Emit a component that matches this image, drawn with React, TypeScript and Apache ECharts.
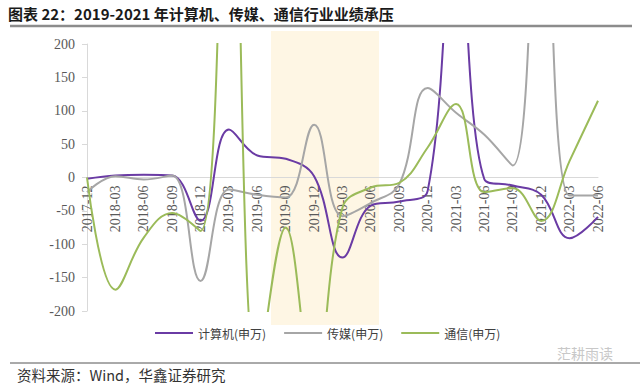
import React, { useEffect, useRef } from "react";
import * as echarts from "echarts";

const categories = [
  "2017-12", "2018-03", "2018-06", "2018-09", "2018-12",
  "2019-03", "2019-06", "2019-09", "2019-12",
  "2020-03", "2020-06", "2020-09", "2020-12",
  "2021-03", "2021-06", "2021-09", "2021-12",
  "2022-03", "2022-06",
];

const computerValues = [-2, 3, 4, 3, -65, 72, 33, 28, 2, -120, -42, -36, -20, 420, -3, -12, -26, -91, -59];
const mediaValues = [-22, 2, -3, 3, -155, -18, -26, -30, 79, -58, -38, -10, 134, 97, 64, 18, 550, -27, -27];
const telecomValues = [0, -168, -90, -53, -80, 640, -300, -75, -320, -45, -15, -8, 45, 110, -22, -16, -65, 25, 115];

const seriesNames = ["计算机(申万)", "传媒(申万)", "通信(申万)"];
const seriesColors = ["#6A3BA4", "#A6A6A6", "#9BBB59"];

const yTicks = { min: -200, max: 200, interval: 50 };

const titleText = "图表 22：2019-2021 年计算机、传媒、通信行业业绩承压";
const sourceText = "资料来源：Wind，华鑫证券研究";
const watermarkText = "茫耕雨读";

export default function App() {
  const ref = useRef<HTMLDivElement>(null);

  useEffect(() => {
    if (!ref.current) return;
    const chart = echarts.init(ref.current, null, { renderer: "svg" });
    const serif = "'Liberation Serif', 'Times New Roman', serif";
    const cjk = "'Noto Sans CJK SC', sans-serif";
    const dataSets = [computerValues, mediaValues, telecomValues];
    const gridTop = 44;
    const gridBottom = 74;
    const gridHeight = 385 - gridTop - gridBottom;
    const zeroOffset = -gridHeight * (0 - yTicks.min) / (yTicks.max - yTicks.min);

    chart.setOption({
      animation: false,
      backgroundColor: "#ffffff",
      grid: { left: 87, right: 42, top: gridTop, bottom: gridBottom, containLabel: false },
      legend: {
        left: 150,
        top: 322,
        icon: "rect",
        itemWidth: 38,
        itemHeight: 2,
        itemGap: 18,
        textStyle: { fontFamily: cjk, fontSize: 12, color: "#404040" },
        data: seriesNames,
      },
      xAxis: {
        type: "category",
        data: categories,
        boundaryGap: false,
        position: "bottom",
        offset: zeroOffset,
        axisLine: { onZero: false, lineStyle: { color: "#D9D9D9", width: 1 } },
        axisTick: { show: false },
        axisLabel: {
          rotate: 90,
          interval: 0,
          margin: 8,
          fontFamily: serif,
          fontSize: 14,
          color: "#595959",
        },
        splitLine: { show: false },
      },
      yAxis: {
        type: "value",
        min: yTicks.min,
        max: yTicks.max,
        interval: yTicks.interval,
        axisLine: { show: true, lineStyle: { color: "#D9D9D9" } },
        axisTick: { show: true, length: 5, lineStyle: { color: "#D9D9D9" } },
        axisLabel: { fontFamily: serif, fontSize: 14, color: "#595959", margin: 12 },
        splitLine: { show: false },
      },
      series: seriesNames.map((name, k) => ({
        name,
        type: "line",
        data: dataSets[k],
        smooth: 0.4,
        showSymbol: false,
        symbol: "none",
        clip: true,
        z: 3,
        lineStyle: { color: seriesColors[k], width: 2 },
        itemStyle: { color: seriesColors[k] },
      })),
      graphic: [
        {
          type: "rect",
          z: -10,
          silent: true,
          shape: { x: 271, y: 31, width: 108, height: 294 },
          style: { fill: "#FEF6E4" },
        },
        {
          type: "text",
          x: 8,
          y: 13,
          style: {
            text: titleText,
            font: `bold 15px ${cjk}`,
            fill: "#1a1a1a",
            textVerticalAlign: "middle",
          },
        },
        {
          type: "line",
          shape: { x1: 10, y1: 26, x2: 632, y2: 26 },
          style: { stroke: "#8C8C8C", lineWidth: 2.5 },
        },
        {
          type: "line",
          shape: { x1: 10, y1: 363, x2: 640, y2: 363 },
          style: { stroke: "#555555", lineWidth: 1 },
        },
        {
          type: "text",
          x: 17,
          y: 374,
          style: {
            text: sourceText,
            font: `14.5px ${cjk}`,
            fill: "#333333",
            textVerticalAlign: "middle",
          },
        },
        {
          type: "text",
          x: 557,
          y: 353,
          style: {
            text: watermarkText,
            font: `14px ${cjk}`,
            fill: "#C8C8C8",
            textVerticalAlign: "middle",
          },
        },
      ],
    });

    return () => chart.dispose();
  }, []);

  return (
    <div
      ref={ref}
      style={{ position: "fixed", left: 0, top: 0, width: 640, height: 385 }}
    />
  );
}
